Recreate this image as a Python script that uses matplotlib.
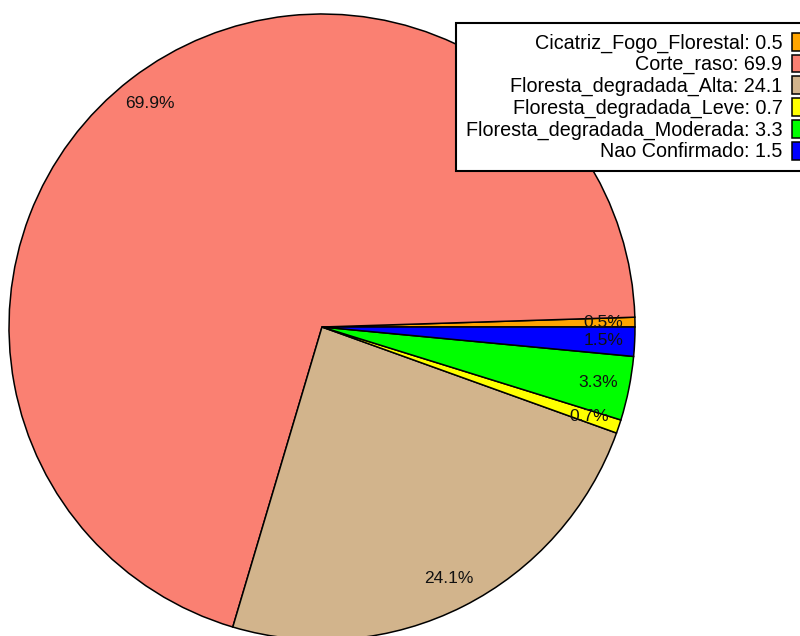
import matplotlib
matplotlib.use("Agg")
import matplotlib.pyplot as plt

categories = ["Cicatriz_Fogo_Florestal", "Corte_raso", "Floresta_degradada_Alta",
              "Floresta_degradada_Leve", "Floresta_degradada_Moderada", "Nao Confirmado"]
values = [0.5, 69.9, 24.1, 0.7, 3.3, 1.5]
colors = ["#FFA500", "#FA8072", "#D2B48C", "#FFFF00", "#00FF00", "#0000FF"]

plt.rcParams['font.family'] = ['Liberation Sans', 'DejaVu Sans']

W, H = 800, 636
fig = plt.figure(figsize=(W / 100, H / 100), dpi=100)
cx, cy, r = 322, 327, 313
ax = fig.add_axes([(cx - r) / W, (H - cy - r) / H, 2 * r / W, 2 * r / H])

wedges, texts, autotexts = ax.pie(
    values, colors=colors, startangle=0, counterclock=True,
    autopct='%1.1f%%', pctdistance=0.9,
    wedgeprops=dict(edgecolor='black', linewidth=1.1),
    textprops=dict(fontsize=12.5, color='#111111'))
ax.set_xlim(-1, 1)
ax.set_ylim(-1, 1)
ax.set_aspect('equal')
ax.axis('off')

labels = [f"{c}: {v}" for c, v in zip(categories, values)]
leg = fig.legend(wedges, labels, loc='upper left',
                 bbox_to_anchor=(456 / W, 1 - 23 / H), borderaxespad=0,
                 markerfirst=False, fontsize=14.2, labelspacing=0.1,
                 handlelength=0.75, handleheight=1.0, handletextpad=0.5,
                 borderpad=0.5, fancybox=False, framealpha=1.0,
                 edgecolor='black')
leg.get_frame().set_linewidth(1.5)

fig.savefig("out.png", dpi=100)
